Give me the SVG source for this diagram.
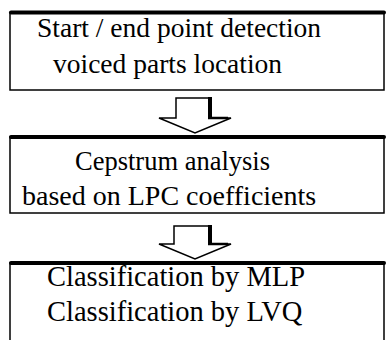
<svg xmlns="http://www.w3.org/2000/svg" width="386" height="340" viewBox="0 0 386 340">
<style>
.box{fill:#fff;stroke:#000;stroke-width:1.5}
.top{stroke:#000;stroke-width:4;stroke-linecap:round}
.arr{fill:#fff;stroke:#000;stroke-width:1.5;stroke-linejoin:miter}
.sh{stroke:#000;stroke-width:4}
</style>
<rect width="386" height="340" fill="#fff"/>
<g id="node1">
<rect class="box" x="10" y="12.5" width="374" height="77.5"/>
<line class="top" x1="11" y1="12.5" x2="384" y2="12.5"/>
<text x="37" y="37" font-family="Liberation Serif" font-size="27.5">Start / end point detection</text>
<text x="53" y="73" font-family="Liberation Serif" font-size="27.5">voiced parts location</text>
</g>
<g id="node2">
<rect class="box" x="10" y="137" width="374" height="76"/>
<line class="top" x1="11" y1="137" x2="384" y2="137"/>
<text x="75" y="170" font-family="Liberation Serif" font-size="26.5">Cepstrum analysis</text>
<text x="22" y="205" font-family="Liberation Serif" font-size="28">based on LPC coefficients</text>
</g>
<g id="node3">
<path class="box" d="M10,341 V263 H384 V341"/>
<line class="top" x1="11" y1="263" x2="384" y2="263"/>
<text x="47" y="286" font-family="Liberation Serif" font-size="28.5">Classification by MLP</text>
<text x="47" y="321" font-family="Liberation Serif" font-size="28.5">Classification by LVQ</text>
</g>
<g id="connectors">
<polygon class="arr" points="176,98 210,98 210,118 231,118 195,133 159,118 176,118"/>
<line class="sh" x1="210" y1="97" x2="210" y2="118"/>
<line class="sh" x1="208" y1="118" x2="228" y2="118" style="stroke-width:2.5"/>
<polygon class="arr" points="174,226 210,226 210,244 231,244 195,259 159,244 174,244"/>
<line class="sh" x1="210" y1="225" x2="210" y2="244"/>
<line class="sh" x1="208" y1="244" x2="228" y2="244" style="stroke-width:2.5"/>
</g>
</svg>
